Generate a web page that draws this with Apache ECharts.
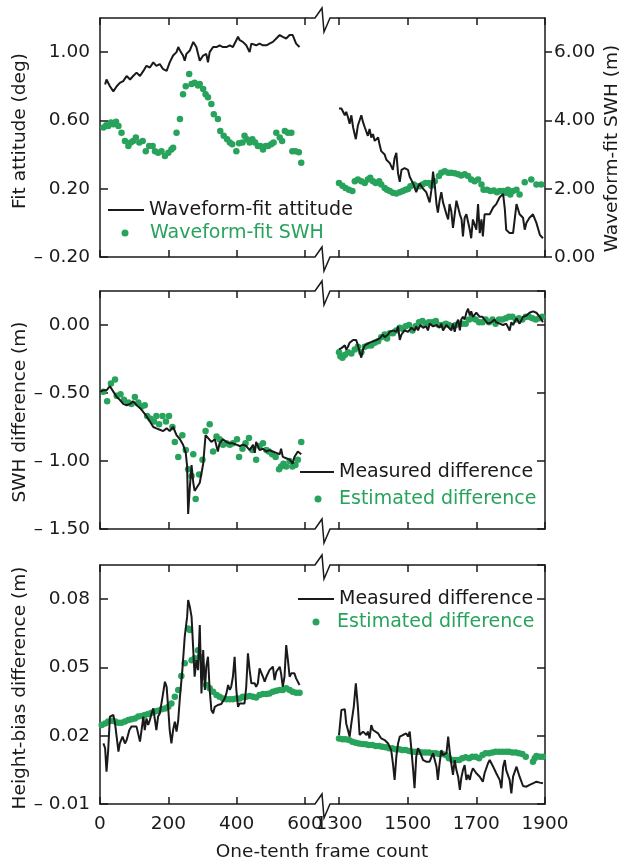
<!DOCTYPE html>
<html>
<head>
<meta charset="utf-8">
<script src="https://cdn.jsdelivr.net/npm/echarts@6/dist/echarts.min.js"></script>
<style>html,body{margin:0;padding:0;background:#fff}#c{width:625px;height:863px}</style>
</head>
<body>
<div id="c"></div>
<script>
// ---------- DATA ----------
const xTicksLeft = [0, 200, 400, 600];
const xTicksRight = [1300, 1500, 1700, 1900];

// Panel 1: waveform-fit attitude (deg) and waveform-fit SWH (m)
const attitudeLeft = [[15,0.81],[19,0.84],[29,0.80],[39,0.77],[49,0.80],[58,0.82],[68,0.83],[78,0.86],[88,0.84],[97,0.86],[107,0.88],[117,0.86],[127,0.89],[136,0.92],[146,0.91],[156,0.94],[165,0.92],[175,0.93],[185,0.90],[195,0.89],[204,0.94],[214,0.98],[224,1.00],[229,1.03],[234,1.01],[243,0.98],[248,0.95],[253,0.99],[263,1.01],[273,1.06],[277,1.07],[282,1.03],[292,0.95],[302,0.98],[311,0.99],[316,0.94],[321,1.00],[331,1.03],[341,1.03],[350,1.04],[360,1.03],[370,1.03],[380,1.04],[389,1.03],[399,1.07],[404,1.09],[409,1.07],[418,1.06],[428,1.04],[438,1.00],[443,1.05],[448,1.06],[457,1.04],[467,1.05],[477,1.04],[487,1.04],[496,1.05],[506,1.06],[516,1.08],[526,1.10],[535,1.09],[545,1.08],[555,1.10],[564,1.10],[574,1.05],[584,1.03]];
const attitudeRight = [[1300,0.67],[1307,0.67],[1312,0.66],[1317,0.63],[1321,0.65],[1326,0.62],[1331,0.58],[1336,0.63],[1341,0.56],[1349,0.49],[1355,0.57],[1365,0.63],[1370,0.59],[1375,0.56],[1384,0.51],[1389,0.55],[1394,0.50],[1399,0.52],[1404,0.48],[1414,0.50],[1418,0.46],[1423,0.42],[1428,0.43],[1433,0.40],[1438,0.37],[1443,0.38],[1448,0.35],[1457,0.31],[1462,0.38],[1467,0.41],[1472,0.29],[1477,0.24],[1482,0.31],[1491,0.32],[1501,0.31],[1506,0.27],[1516,0.23],[1525,0.18],[1530,0.21],[1535,0.23],[1545,0.20],[1550,0.19],[1554,0.18],[1559,0.15],[1564,0.12],[1569,0.19],[1574,0.30],[1579,0.22],[1584,0.11],[1588,0.06],[1593,0.13],[1598,0.18],[1603,0.12],[1613,0.05],[1618,0.02],[1622,0.11],[1627,0.07],[1632,-0.03],[1637,0.05],[1642,0.13],[1652,0.05],[1657,0.02],[1661,-0.08],[1666,0.03],[1671,0.05],[1681,-0.04],[1685,-0.09],[1690,0.02],[1700,-0.04],[1705,0.11],[1710,-0.06],[1715,0.02],[1719,-0.08],[1724,0.05],[1729,0.06],[1739,0.05],[1749,0.09],[1758,0.11],[1768,0.15],[1778,0.17],[1783,0.08],[1787,-0.04],[1797,-0.06],[1807,-0.06],[1817,0.11],[1821,0.10],[1826,0.05],[1836,0.03],[1841,-0.04],[1846,0.00],[1855,0.03],[1865,0.05],[1875,0.00],[1885,-0.07],[1894,-0.09]];
const swhLeft = [[10,3.79],[18,3.86],[24,3.84],[32,3.94],[39,3.89],[47,3.96],[54,3.84],[63,3.64],[73,3.40],[83,3.25],[90,3.35],[97,3.40],[105,3.50],[115,3.35],[125,3.40],[134,3.10],[144,3.25],[154,3.25],[161,3.10],[170,3.05],[180,3.10],[190,2.96],[200,3.05],[209,3.15],[214,3.20],[224,3.64],[234,4.04],[243,4.77],[251,5.00],[261,5.36],[268,5.07],[277,5.10],[287,5.02],[292,5.07],[302,4.92],[309,4.77],[316,4.68],[326,4.48],[333,4.18],[345,4.04],[352,3.69],[362,3.55],[372,3.45],[380,3.35],[387,3.30],[399,3.10],[407,3.33],[417,3.35],[423,3.55],[430,3.45],[438,3.35],[446,3.45],[454,3.35],[462,3.25],[469,3.25],[477,3.15],[485,3.25],[492,3.25],[501,3.30],[508,3.35],[516,3.64],[526,3.50],[533,3.40],[541,3.69],[550,3.64],[560,3.64],[563,3.10],[572,3.10],[582,3.07],[589,2.76]];
const swhRight = [[1300,2.17],[1310,2.09],[1319,2.02],[1329,1.97],[1339,1.93],[1346,2.22],[1355,2.27],[1365,2.22],[1375,2.17],[1384,2.27],[1391,2.32],[1399,2.22],[1407,2.17],[1417,2.22],[1423,2.12],[1433,2.02],[1440,1.97],[1448,1.93],[1457,1.88],[1467,1.86],[1477,1.90],[1486,1.93],[1494,1.97],[1501,1.99],[1508,2.07],[1518,2.12],[1527,2.07],[1535,2.07],[1543,2.12],[1552,2.17],[1562,2.17],[1569,2.09],[1579,2.22],[1591,2.37],[1598,2.47],[1608,2.51],[1618,2.47],[1627,2.47],[1637,2.45],[1647,2.42],[1656,2.39],[1666,2.42],[1676,2.37],[1685,2.27],[1695,2.22],[1705,2.27],[1715,2.12],[1721,1.97],[1731,1.97],[1741,1.93],[1751,1.95],[1760,1.90],[1768,1.93],[1778,1.93],[1786,1.88],[1792,1.97],[1799,1.83],[1807,1.93],[1817,1.97],[1826,1.83],[1841,2.19],[1860,2.27],[1875,2.12],[1889,2.12]];

// Panel 2: SWH difference (m)
const swhMeasLeft = [[0,-0.49],[10,-0.48],[19,-0.48],[29,-0.45],[39,-0.49],[49,-0.53],[58,-0.55],[68,-0.58],[78,-0.59],[88,-0.58],[97,-0.56],[107,-0.59],[117,-0.61],[127,-0.64],[136,-0.67],[146,-0.71],[156,-0.75],[165,-0.76],[175,-0.77],[185,-0.78],[195,-0.76],[204,-0.78],[214,-0.75],[224,-0.81],[234,-0.84],[243,-0.88],[251,-0.94],[255,-1.04],[258,-1.39],[263,-1.19],[268,-1.03],[273,-1.16],[277,-1.22],[282,-1.22],[292,-1.16],[302,-1.02],[309,-0.81],[316,-0.83],[326,-0.86],[336,-0.84],[345,-0.93],[350,-0.87],[360,-0.84],[370,-0.86],[380,-0.87],[389,-0.87],[399,-0.88],[409,-0.89],[418,-0.88],[428,-0.89],[438,-0.92],[448,-0.88],[453,-0.94],[457,-0.86],[467,-0.92],[477,-0.91],[487,-0.93],[496,-0.92],[506,-0.93],[516,-0.94],[526,-0.95],[530,-0.91],[535,-0.97],[545,-0.98],[555,-0.99],[564,-1.02],[569,-0.97],[574,-0.97],[579,-0.93],[584,-0.94],[589,-0.95]];
const swhEstLeft = [[10,-0.49],[21,-0.56],[32,-0.43],[44,-0.40],[49,-0.52],[60,-0.51],[70,-0.55],[83,-0.57],[92,-0.58],[102,-0.53],[112,-0.57],[122,-0.60],[131,-0.59],[138,-0.67],[148,-0.69],[158,-0.71],[165,-0.67],[173,-0.73],[183,-0.67],[193,-0.71],[202,-0.67],[212,-0.75],[219,-0.86],[229,-0.97],[241,-0.81],[251,-0.92],[258,-1.06],[268,-1.11],[273,-0.95],[280,-1.28],[290,-1.10],[300,-0.99],[309,-0.78],[321,-0.73],[331,-0.93],[341,-0.82],[350,-0.84],[360,-0.88],[370,-0.87],[380,-0.88],[389,-0.87],[401,-0.84],[407,-0.97],[417,-0.91],[426,-0.87],[436,-0.83],[446,-0.92],[457,-0.99],[467,-0.89],[477,-0.87],[487,-0.92],[494,-0.93],[504,-0.95],[514,-0.97],[524,-1.06],[530,-1.04],[537,-1.02],[545,-1.04],[555,-1.00],[563,-1.04],[572,-1.03],[579,-0.99],[589,-0.86]];
const swhMeasRight = [[1300,-0.18],[1307,-0.17],[1317,-0.15],[1321,-0.18],[1326,-0.16],[1331,-0.13],[1341,-0.11],[1346,-0.12],[1350,-0.11],[1355,-0.15],[1360,-0.16],[1365,-0.24],[1370,-0.18],[1375,-0.15],[1380,-0.14],[1389,-0.13],[1399,-0.12],[1409,-0.11],[1418,-0.10],[1428,-0.07],[1433,-0.09],[1443,-0.07],[1448,-0.05],[1457,-0.04],[1467,-0.05],[1472,-0.01],[1477,-0.11],[1482,-0.07],[1491,-0.04],[1501,-0.05],[1511,-0.02],[1520,-0.04],[1525,-0.01],[1530,-0.04],[1537,0.00],[1545,-0.02],[1554,-0.01],[1559,-0.04],[1564,0.01],[1574,-0.01],[1584,0.00],[1593,-0.02],[1598,0.01],[1603,-0.04],[1613,0.00],[1618,-0.01],[1627,-0.04],[1632,0.01],[1637,-0.05],[1642,0.01],[1647,0.04],[1652,-0.04],[1656,0.04],[1661,0.06],[1666,0.04],[1671,0.09],[1676,0.12],[1681,0.07],[1685,0.10],[1690,0.06],[1700,0.09],[1710,0.06],[1718,0.06],[1724,0.04],[1734,0.01],[1744,0.02],[1753,0.04],[1758,0.02],[1768,0.01],[1778,0.00],[1787,0.01],[1797,-0.04],[1802,0.02],[1807,0.00],[1817,0.05],[1826,0.01],[1836,0.06],[1846,0.07],[1855,0.09],[1865,0.10],[1875,0.09],[1885,0.06],[1894,0.02]];
const swhEstRight = [[1300,-0.20],[1304,-0.23],[1310,-0.24],[1317,-0.22],[1326,-0.20],[1336,-0.21],[1346,-0.18],[1355,-0.16],[1365,-0.20],[1375,-0.16],[1384,-0.15],[1394,-0.15],[1404,-0.13],[1414,-0.12],[1423,-0.09],[1433,-0.07],[1440,-0.10],[1448,-0.06],[1457,-0.06],[1467,-0.04],[1477,-0.02],[1486,-0.03],[1494,-0.01],[1504,0.00],[1514,-0.04],[1523,-0.01],[1533,0.02],[1543,0.03],[1552,0.01],[1562,0.02],[1572,0.02],[1582,0.03],[1591,0.00],[1601,0.00],[1611,0.01],[1620,0.00],[1630,-0.01],[1640,0.00],[1650,0.01],[1659,0.01],[1669,0.01],[1679,0.04],[1688,0.05],[1698,0.04],[1708,0.02],[1718,0.02],[1727,0.04],[1737,0.02],[1747,0.04],[1756,0.01],[1766,0.04],[1776,0.04],[1786,0.05],[1795,0.06],[1805,0.06],[1815,0.04],[1824,0.05],[1834,0.04],[1844,0.06],[1853,0.06],[1863,0.05],[1873,0.04],[1883,0.05],[1892,0.06]];

// Panel 3: height-bias difference (m)
const hbMeasLeft = [[10,0.0166],[15,0.0145],[19,0.0042],[24,0.0137],[29,0.0284],[39,0.0291],[44,0.0254],[54,0.0130],[58,0.0166],[66,0.0196],[73,0.0166],[78,0.0181],[86,0.0225],[92,0.0240],[97,0.0232],[107,0.0240],[117,0.0174],[127,0.0284],[131,0.0225],[136,0.0276],[141,0.0247],[146,0.0269],[151,0.0298],[156,0.0320],[161,0.0313],[165,0.0225],[170,0.0284],[175,0.0298],[183,0.0371],[190,0.0437],[195,0.0415],[200,0.0313],[204,0.0225],[209,0.0166],[214,0.0225],[219,0.0262],[224,0.0218],[229,0.0269],[234,0.0371],[241,0.0488],[248,0.0635],[255,0.0722],[258,0.0796],[263,0.0766],[268,0.0722],[273,0.0576],[277,0.0459],[282,0.0532],[287,0.0488],[292,0.0686],[297,0.0386],[302,0.0576],[304,0.0510],[307,0.0401],[311,0.0503],[316,0.0547],[321,0.0401],[326,0.0313],[331,0.0298],[336,0.0327],[345,0.0335],[355,0.0339],[360,0.0342],[365,0.0364],[370,0.0386],[375,0.0423],[380,0.0401],[384,0.0415],[389,0.0459],[394,0.0547],[399,0.0401],[404,0.0327],[409,0.0342],[414,0.0335],[423,0.0342],[428,0.0415],[433,0.0562],[438,0.0488],[443,0.0430],[448,0.0437],[453,0.0430],[457,0.0415],[462,0.0430],[467,0.0496],[477,0.0459],[482,0.0437],[487,0.0459],[496,0.0488],[506,0.0503],[511,0.0444],[516,0.0481],[521,0.0474],[526,0.0503],[530,0.0474],[535,0.0415],[540,0.0459],[545,0.0598],[550,0.0532],[555,0.0459],[560,0.0474],[569,0.0474],[574,0.0452],[579,0.0459],[584,0.0423]];
const hbEstLeft = [[5,0.0247],[15,0.0254],[24,0.0262],[34,0.0266],[44,0.0262],[54,0.0257],[63,0.0257],[73,0.0262],[83,0.0269],[92,0.0272],[102,0.0276],[112,0.0284],[122,0.0287],[131,0.0291],[141,0.0295],[151,0.0301],[161,0.0306],[170,0.0310],[180,0.0316],[190,0.0320],[200,0.0327],[209,0.0342],[219,0.0371],[229,0.0401],[238,0.0462],[248,0.0518],[258,0.0671],[263,0.0664],[268,0.0532],[277,0.0540],[287,0.0576],[292,0.0547],[302,0.0459],[311,0.0423],[321,0.0408],[331,0.0393],[341,0.0379],[350,0.0371],[360,0.0364],[370,0.0360],[380,0.0360],[389,0.0360],[399,0.0364],[409,0.0364],[418,0.0371],[428,0.0371],[438,0.0374],[448,0.0371],[457,0.0368],[467,0.0379],[477,0.0383],[487,0.0383],[496,0.0386],[506,0.0393],[516,0.0398],[526,0.0401],[535,0.0401],[545,0.0408],[555,0.0401],[564,0.0393],[574,0.0389],[584,0.0389]];
const hbMeasRight = [[1300,0.0203],[1307,0.0313],[1317,0.0316],[1321,0.0254],[1331,0.0196],[1336,0.0254],[1343,0.0327],[1349,0.0430],[1355,0.0327],[1360,0.0203],[1365,0.0196],[1370,0.0218],[1375,0.0210],[1380,0.0203],[1384,0.0218],[1389,0.0188],[1394,0.0247],[1399,0.0225],[1404,0.0218],[1414,0.0210],[1423,0.0188],[1433,0.0181],[1443,0.0166],[1452,0.0137],[1457,0.0079],[1462,0.0006],[1467,0.0108],[1472,0.0166],[1477,0.0196],[1486,0.0203],[1496,0.0210],[1501,0.0196],[1506,0.0218],[1511,0.0137],[1516,0.0049],[1520,-0.0031],[1525,0.0108],[1530,0.0145],[1535,0.0130],[1545,0.0093],[1554,0.0086],[1564,0.0086],[1574,0.0123],[1579,0.0130],[1584,0.0064],[1588,0.0006],[1593,0.0079],[1598,0.0137],[1603,0.0115],[1608,0.0115],[1613,0.0123],[1618,0.0196],[1622,0.0137],[1627,0.0079],[1632,0.0028],[1637,0.0093],[1642,0.0049],[1647,0.0020],[1652,-0.0038],[1656,0.0013],[1661,0.0049],[1666,0.0071],[1671,0.0006],[1676,0.0028],[1681,0.0006],[1685,0.0035],[1690,0.0057],[1700,0.0035],[1710,0.0020],[1719,-0.0002],[1724,0.0035],[1734,0.0079],[1739,0.0093],[1749,0.0064],[1758,0.0035],[1768,0.0006],[1773,-0.0031],[1778,0.0064],[1783,0.0093],[1787,0.0049],[1797,0.0006],[1802,-0.0053],[1807,0.0020],[1817,0.0064],[1821,0.0071],[1826,0.0020],[1836,-0.0021],[1846,-0.0024],[1855,-0.0016],[1865,-0.0009],[1875,-0.0002],[1885,-0.0006],[1894,-0.0009]];
const hbEstRight = [[1300,0.0188],[1310,0.0185],[1319,0.0184],[1329,0.0181],[1339,0.0174],[1349,0.0169],[1358,0.0166],[1368,0.0164],[1378,0.0162],[1387,0.0159],[1397,0.0159],[1407,0.0155],[1417,0.0155],[1426,0.0152],[1436,0.0149],[1446,0.0145],[1455,0.0145],[1465,0.0140],[1475,0.0140],[1484,0.0137],[1494,0.0137],[1504,0.0133],[1514,0.0130],[1523,0.0130],[1533,0.0130],[1543,0.0126],[1552,0.0126],[1562,0.0126],[1572,0.0123],[1582,0.0123],[1591,0.0120],[1601,0.0120],[1611,0.0115],[1620,0.0101],[1630,0.0093],[1640,0.0093],[1650,0.0093],[1659,0.0101],[1669,0.0105],[1679,0.0101],[1688,0.0108],[1698,0.0108],[1708,0.0101],[1718,0.0115],[1727,0.0123],[1737,0.0123],[1747,0.0126],[1756,0.0130],[1766,0.0130],[1776,0.0130],[1786,0.0130],[1795,0.0130],[1805,0.0126],[1815,0.0126],[1824,0.0123],[1834,0.0120],[1844,0.0108],[1865,0.0086],[1870,0.0101],[1875,0.0111],[1885,0.0108],[1894,0.0108]];

// ---------- STYLE / LAYOUT ----------
const FONT = 'DejaVu Sans';
const INK = '#1a1a1a';
const GREEN = '#27a35c';
const FS = 18.5;
const leftX = 100, leftW = 205, rightX = 339, rightW = 206;
const panels = [{top: 18, h: 239}, {top: 291, h: 238}, {top: 565, h: 239}];

function fmt(v) {
  const r = Math.round(v * 1000) / 1000;
  if (Math.abs(r) < 1e-9) return '0.00';
  return r < 0 ? '\u2013 ' + Math.abs(r).toFixed(2) : r.toFixed(2);
}

const grids = [];
panels.forEach(p => {
  grids.push({left: leftX, top: p.top, width: leftW, height: p.h});
  grids.push({left: rightX, top: p.top, width: rightW, height: p.h});
});

const axisLine = {show: true, onZero: false, lineStyle: {color: INK, width: 1.5}};
const xAxes = [];
grids.forEach((g, gi) => {
  const isLeft = gi % 2 === 0;
  const isBottomPanel = gi >= 4;
  const base = {
    type: 'value', gridIndex: gi,
    min: isLeft ? xTicksLeft[0] : xTicksRight[0],
    max: isLeft ? xTicksLeft[3] : xTicksRight[3],
    interval: 200,
    splitLine: {show: false},
    axisLine: axisLine,
    axisTick: {show: true, inside: true, length: 7, lineStyle: {color: INK, width: 1.5}}
  };
  xAxes.push(Object.assign({}, base, {
    position: 'bottom',
    axisLabel: {show: isBottomPanel, margin: 11, color: INK, fontFamily: FONT, fontSize: FS,
      formatter: v => String(v), showMinLabel: true, showMaxLabel: true}
  }));
  xAxes.push(Object.assign({}, base, {position: 'top', axisLabel: {show: false}}));
});

function yAx(gi, pos, min, max, interval, opts) {
  return Object.assign({
    type: 'value', gridIndex: gi, position: pos, min: min, max: max, interval: interval,
    splitLine: {show: false},
    axisLine: axisLine,
    axisTick: {show: true, inside: true, length: 8, lineStyle: {color: INK, width: 1.5}},
    axisLabel: {show: false}
  }, opts || {});
}
const lbl = {show: true, margin: 10, color: INK, fontFamily: FONT, fontSize: FS, formatter: fmt, showMaxLabel: false};
const nameStyle = {color: INK, fontFamily: FONT, fontSize: FS};

const yAxes = [
  // panel 1
  yAx(0, 'left', -0.2, 1.2, 0.4, {axisLabel: lbl, name: 'Fit attitude (deg)', nameLocation: 'middle', nameGap: 70,
    nameTextStyle: Object.assign({padding: [0, 0, 0, 13]}, nameStyle)}),
  yAx(0, 'right', 0, 7, 2, {show: false}),
  yAx(1, 'left', -0.2, 1.2, 0.4, {show: false}),
  yAx(1, 'right', 0, 7, 2, {axisLabel: Object.assign({}, lbl, {margin: 9}),
    axisTick: {show: true, inside: false, length: 7, lineStyle: {color: INK, width: 1.5}},
    name: 'Waveform-fit SWH (m)', nameLocation: 'middle', nameGap: 58,
    nameTextStyle: Object.assign({padding: [0, 22, 0, 0]}, nameStyle)}),
  // panel 2
  yAx(2, 'left', -1.5, 0.25, 0.5, {axisLabel: lbl, name: 'SWH difference (m)', nameLocation: 'middle', nameGap: 70,
    nameTextStyle: Object.assign({padding: [0, 4, 0, 0]}, nameStyle)}),
  yAx(3, 'right', -1.5, 0.25, 0.5),
  // panel 3
  yAx(4, 'left', -0.01, 0.095, 0.03, {axisLabel: lbl, name: 'Height-bias difference (m)', nameLocation: 'middle', nameGap: 70,
    nameTextStyle: Object.assign({padding: [0, 7, 0, 0]}, nameStyle)}),
  yAx(5, 'right', -0.01, 0.095, 0.03)
];

function lineS(name, data, xi, yi) {
  return {type: 'line', name: name, data: data, xAxisIndex: xi, yAxisIndex: yi, symbol: 'none',
    color: INK, lineStyle: {color: INK, width: 2}, z: 3, animation: false};
}
function dotS(name, data, xi, yi) {
  return {type: 'scatter', name: name, data: data, xAxisIndex: xi, yAxisIndex: yi, symbol: 'circle', symbolSize: 6.5,
    color: GREEN, itemStyle: {color: GREEN, opacity: 1}, z: 2, animation: false};
}

const series = [
  dotS('Waveform-fit SWH', swhLeft, 0, 1),
  lineS('Waveform-fit attitude', attitudeLeft, 0, 0),
  dotS('Waveform-fit SWH', swhRight, 2, 3),
  lineS('Waveform-fit attitude', attitudeRight, 2, 2),
  dotS('Estimated difference', swhEstLeft, 4, 4),
  lineS('Measured difference', swhMeasLeft, 4, 4),
  dotS('Estimated difference', swhEstRight, 6, 5),
  lineS('Measured difference', swhMeasRight, 6, 5),
  dotS('Estimated difference', hbEstLeft, 8, 6),
  lineS('Measured difference', hbMeasLeft, 8, 6),
  dotS('Estimated difference', hbEstRight, 10, 7),
  lineS('Measured difference', hbMeasRight, 10, 7)
];

function legendLine(name, left, top, w) {
  return {data: [{name: name, icon: 'rect'}], left: left, top: top, padding: 0, itemWidth: w, itemHeight: 2,
    selectedMode: false, itemStyle: {color: INK},
    textStyle: {color: INK, fontFamily: FONT, fontSize: 19}};
}
// dot legends: icon centred at cx, text starting at tx
function legendDot(name, cx, tx, top) {
  return {data: [{name: name, icon: 'circle'}], left: cx - 3.5, top: top, padding: 0, itemWidth: 7, itemHeight: 7,
    selectedMode: false, itemStyle: {color: GREEN},
    textStyle: {color: GREEN, fontFamily: FONT, fontSize: 19, padding: [0, 0, 0, Math.max(0, tx - (cx + 3.5 + 5))]}};
}
const legends = [
  legendLine('Waveform-fit attitude', 108, 200.5, 36),
  legendDot('Waveform-fit SWH', 125, 150, 223.5),
  legendLine('Measured difference', 300, 462.5, 34),
  legendDot('Estimated difference', 318, 339, 489.5),
  legendLine('Measured difference', 298, 589.5, 36),
  legendDot('Estimated difference', 316, 337, 612.5)
];

// axis-break marks on the top and bottom frame lines
const graphics = [];
panels.forEach(p => {
  [p.top, p.top + p.h].forEach(y => {
    graphics.push({type: 'polyline', z: 100, silent: true,
      shape: {points: [[leftX + leftW, y], [315, y], [322, y - 10], [324, y + 14], [330, y], [rightX, y]]},
      style: {stroke: INK, lineWidth: 1.5, fill: null}});
  });
});
graphics.push({type: 'text', x: 322, y: 843, silent: true,
  style: {text: 'One-tenth frame count', align: 'center', verticalAlign: 'top', fill: INK, font: FS + 'px "' + FONT + '"'}});

const chart = echarts.init(document.getElementById('c'), null, {renderer: 'canvas'});
chart.setOption({
  backgroundColor: '#ffffff',
  animation: false,
  grid: grids,
  xAxis: xAxes,
  yAxis: yAxes,
  legend: legends,
  series: series,
  graphic: graphics
});
</script>
</body>
</html>
